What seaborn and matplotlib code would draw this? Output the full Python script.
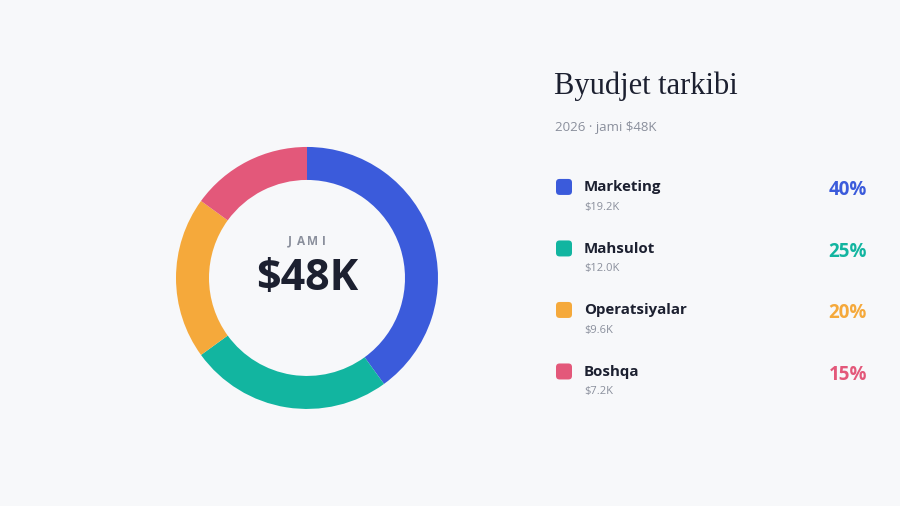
import matplotlib.pyplot as plt
import seaborn as sns
from matplotlib.patches import FancyBboxPatch

# data
categories = ["Marketing", "Mahsulot", "Operatsiyalar", "Boshqa"]
amounts = [19.2, 12.0, 9.6, 7.2]  # $K
shares = [40, 25, 20, 15]  # %
colors = ["#3b5bdb", "#12b5a0", "#f5a93b", "#e3587a"]
title = "Byudjet tarkibi"
subtitle = "2026 · jami $48K"
center_label = "JAMI"
center_value = "$48K"

BG = "#f7f8fa"
DARK = "#1c2030"
GRAY = "#8a8f9c"

sns.set_theme(style="white")
plt.rcParams["font.family"] = ["Open Sans", "DejaVu Sans"]

W, H = 900, 506
fig = plt.figure(figsize=(W / 100, H / 100 + 0.001), dpi=100)
fig.patch.set_facecolor(BG)


def fx(px):
    return px / W


def fy(py):
    return 1 - py / H


# donut
cx, cy, r = 307, 278, 131
ax = fig.add_axes([fx(cx - r), fy(cy + r), 2 * r / W, 2 * r / H])
ax.set_facecolor(BG)
ax.pie(shares, colors=colors, startangle=90, counterclock=False, radius=1,
       wedgeprops=dict(width=33 / r, edgecolor="none", linewidth=0))
ax.set_xlim(-1, 1)
ax.set_ylim(-1, 1)
ax.set_aspect("equal")
ax.axis("off")

# spaced-out caption, one letter at a time
n = len(center_label)
for k, ch in enumerate(center_label):
    ax.text((k - (n - 1) / 2) * 0.088, 0.28, ch, ha="center", va="center",
            fontsize=8.5, color=GRAY, fontweight="bold")
ax.text(0, -0.0, center_value, ha="center", va="center", fontsize=31,
        color=DARK, fontweight="bold")

# title block
fig.text(fx(554), fy(86), title, ha="left", va="center", fontsize=22,
         color=DARK, family=["Liberation Serif", "DejaVu Serif"])
fig.text(fx(555), fy(127), subtitle, ha="left", va="center", fontsize=9.5,
         color=GRAY)

# legend rows
row_y0, row_step = 187, 61.5
for i, (name, amt, pct, col) in enumerate(zip(categories, amounts, shares, colors)):
    yy = row_y0 + i * row_step
    box = FancyBboxPatch((fx(556), fy(yy + 8)), 16 / W, 16 / H,
                         boxstyle="round,pad=0,rounding_size=0.004",
                         transform=fig.transFigure, facecolor=col,
                         edgecolor="none", mutation_aspect=W / H)
    fig.patches.append(box)
    fig.text(fx(584), fy(yy), name, ha="left", va="center", fontsize=10.8,
             color=DARK, fontweight="bold")
    fig.text(fx(584), fy(yy + 20), f"${amt:.1f}K", ha="left", va="center",
             fontsize=8, color=GRAY)
    fig.text(fx(867), fy(yy + 3), f"{pct}%", ha="right", va="center",
             fontsize=13.5, color=col, fontweight="bold")

fig.savefig("out.png", dpi=100, facecolor=BG)
